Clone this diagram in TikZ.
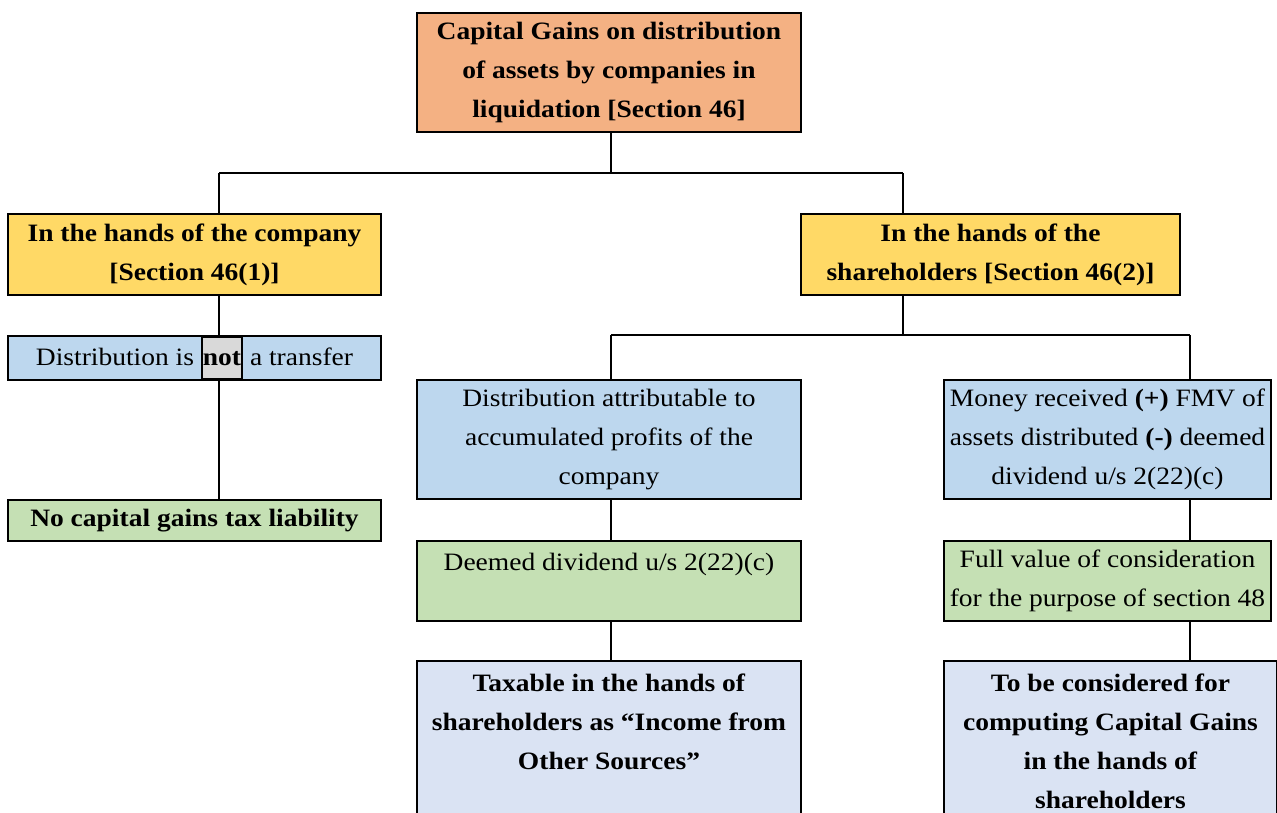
\documentclass[tikz,border=0pt]{standalone}
\usepackage{fontspec}
\setmainfont{Liberation Serif}[FakeStretch=1.1]
\definecolor{corange}{HTML}{F4B183}
\definecolor{cgold}{HTML}{FFD966}
\definecolor{cblue}{HTML}{BDD7EE}
\definecolor{cgreen}{HTML}{C5E0B4}
\definecolor{clight}{HTML}{DAE3F3}
\definecolor{cgray}{HTML}{D9D9D9}
\begin{document}
\begin{tikzpicture}[x=1pt,y=-1pt,
  box/.style={draw=black, line width=2pt, align=center, inner sep=0pt,
    anchor=north west, font=\fontsize{25}{39}\selectfont},
  conn/.style={line width=2pt}]
\useasboundingbox (0,0) rectangle (1277,812);
\clip (0,0) rectangle (1277,812);

\node[box, fill=corange, minimum width=384pt, minimum height=119pt] (top) at (416,12)
  {\textbf{Capital Gains on distribution}\\\textbf{of assets by companies in}\\\textbf{liquidation [Section 46]}};
\node[box, fill=cgold, minimum width=373pt, minimum height=81pt] (lh) at (7,213)
  {\textbf{In the hands of the company}\\\textbf{[Section 46(1)]}};
\node[box, fill=cgold, minimum width=379pt, minimum height=81pt] (rh) at (800,213)
  {\textbf{In the hands of the}\\\textbf{shareholders [Section 46(2)]}};
\node[box, fill=cblue, minimum width=373pt, minimum height=44pt] (dn) at (7,335)
  {Distribution is {\setlength{\fboxsep}{0pt}\setlength{\fboxrule}{2pt}\fcolorbox{black}{cgray}{\rule[-13pt]{0pt}{40pt}\textbf{not}}} a transfer};
\node[box, fill=cgreen, minimum width=373pt, minimum height=41pt] (nc) at (7,499)
  {\textbf{No capital gains tax liability}};
\node[box, fill=cblue, minimum width=384pt, minimum height=119pt] (da) at (416,379)
  {Distribution attributable to\\accumulated profits of the\\company};
\node[box, fill=cblue, minimum width=327pt, minimum height=119pt] (mr) at (943,379)
  {Money received \textbf{(+)} FMV of\\assets distributed \textbf{(-)} deemed\\dividend u/s 2(22)(c)};
\node[box, fill=cgreen, minimum width=384pt, minimum height=80pt] (dd) at (416,540)
  {Deemed dividend u/s 2(22)(c)\\\mbox{}};
\node[box, fill=cgreen, minimum width=327pt, minimum height=80pt] (fv) at (943,540)
  {Full value of consideration\\for the purpose of section 48};
\node[box, fill=clight, minimum width=384pt, minimum height=160pt] (tx) at (416,660)
  {\textbf{Taxable in the hands of}\\\textbf{shareholders as “Income from}\\\textbf{Other Sources”}\\\mbox{}};
\node[box, fill=clight, minimum width=333pt, minimum height=160pt] (tc) at (943,660)
  {\textbf{To be considered for}\\\textbf{computing Capital Gains}\\\textbf{in the hands of}\\\textbf{shareholders}};

\coordinate (j1) at (611,173);
\coordinate (jl) at (219,173);
\coordinate (jr) at (903,173);
\coordinate (j2) at (903,335);
\coordinate (ja) at (611,335);
\coordinate (jb) at (1190,335);

\draw[conn] (top.south -| j1) -- (j1);
\draw[conn] (jl) -- (jr);
\draw[conn] (jl) -- (jl |- lh.north);
\draw[conn] (jr) -- (jr |- rh.north);
\draw[conn] (jl |- lh.south) -- (jl |- dn.north);
\draw[conn] (jl |- dn.south) -- (jl |- nc.north);
\draw[conn] (rh.south -| j2) -- (j2);
\draw[conn] (ja) -- (jb);
\draw[conn] (ja) -- (ja |- da.north);
\draw[conn] (jb) -- (jb |- mr.north);
\draw[conn] (ja |- da.south) -- (ja |- dd.north);
\draw[conn] (jb |- mr.south) -- (jb |- fv.north);
\draw[conn] (ja |- dd.south) -- (ja |- tx.north);
\draw[conn] (jb |- fv.south) -- (jb |- tc.north);
\end{tikzpicture}
\end{document}
